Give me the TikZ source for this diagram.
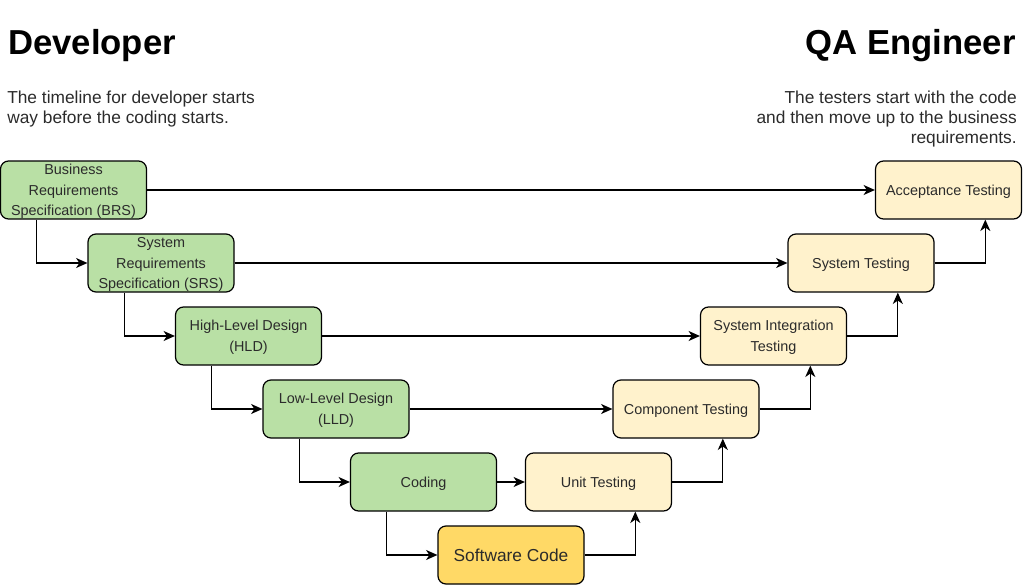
\documentclass[tikz,border=0pt]{standalone}
\usepackage{fontspec}
\setmainfont{Liberation Sans}
\usetikzlibrary{arrows.meta,calc}
\definecolor{devgreen}{HTML}{B9E0A5}
\definecolor{qacream}{HTML}{FFF2CC}
\definecolor{codegold}{HTML}{FFD966}
\definecolor{inktext}{HTML}{2B2B2B}
\tikzset{
  phase/.style={draw=black,line width=0.9pt,rounded corners=6pt,align=center,
    minimum width=109.5pt,minimum height=43.5pt,inner sep=1pt,text=inktext,
    text depth=0pt,font=\fontsize{10.8}{15.4}\selectfont},
  devbox/.style={phase,fill=devgreen},
  testbox/.style={phase,fill=qacream},
  codebox/.style={phase,fill=codegold,font=\fontsize{13}{15}\selectfont},
  arrow/.style={-{Stealth[length=8.5pt,width=7.5pt,inset=2.5pt]},draw=black,line width=0.9pt},
  heading/.style={font=\fontsize{26}{30}\selectfont\bfseries,inner sep=0pt},
  note/.style={font=\fontsize{13}{15}\selectfont,inner sep=0pt,text=inktext}
}

\begin{document}
\begin{tikzpicture}[x=0.75pt,y=-0.75pt]
  \useasboundingbox (0,0) rectangle (1024,585);
  % headings
  \node[heading,anchor=base west] (dev) at (8,55) {Developer};
  \node[heading,anchor=base east] (qa) at (1016,55) {QA Engineer};
  \node[note,anchor=north west,align=left] (devnote) at (7,91)
    {The timeline for developer starts\\way before the coding starts.};
  \node[note,anchor=north east,align=right] (qanote) at (1017,91)
    {The testers start with the code\\and then move up to the business\\requirements.};
  % developer side
  \node[devbox] (brs) at (73.5,190) {Business\\Requirements\\Specification (BRS)};
  \node[devbox] (srs) at (161,263) {System\\Requirements\\Specification (SRS)};
  \node[devbox] (hld) at (248.5,336) {High-Level Design\\(HLD)};
  \node[devbox] (lld) at (336,409) {Low-Level Design\\(LLD)};
  \node[devbox] (cod) at (423.5,482) {Coding};
  \node[codebox] (sw) at (511,555) {Software Code};
  % tester side
  \node[testbox] (unit) at (598.5,482) {Unit Testing};
  \node[testbox] (comp) at (686,409) {Component Testing};
  \node[testbox] (sit) at (773.5,336) {System Integration\\Testing};
  \node[testbox] (st) at (861,263) {System Testing};
  \node[testbox] (at) at (948.5,190) {Acceptance Testing};
  % down the left
  \draw[arrow] ($(brs.south west)!0.25!(brs.south east)$) |- (srs.west);
  \draw[arrow] ($(srs.south west)!0.25!(srs.south east)$) |- (hld.west);
  \draw[arrow] ($(hld.south west)!0.25!(hld.south east)$) |- (lld.west);
  \draw[arrow] ($(lld.south west)!0.25!(lld.south east)$) |- (cod.west);
  \draw[arrow] ($(cod.south west)!0.25!(cod.south east)$) |- (sw.west);
  % up the right
  \draw[arrow] (sw.east) -| ($(unit.south west)!0.75!(unit.south east)$);
  \draw[arrow] (unit.east) -| ($(comp.south west)!0.75!(comp.south east)$);
  \draw[arrow] (comp.east) -| ($(sit.south west)!0.75!(sit.south east)$);
  \draw[arrow] (sit.east) -| ($(st.south west)!0.75!(st.south east)$);
  \draw[arrow] (st.east) -| ($(at.south west)!0.75!(at.south east)$);
  % across
  \draw[arrow] (brs.east) -- (at.west);
  \draw[arrow] (srs.east) -- (st.west);
  \draw[arrow] (hld.east) -- (sit.west);
  \draw[arrow] (lld.east) -- (comp.west);
  \draw[arrow] (cod.east) -- (unit.west);
\end{tikzpicture}
\end{document}
